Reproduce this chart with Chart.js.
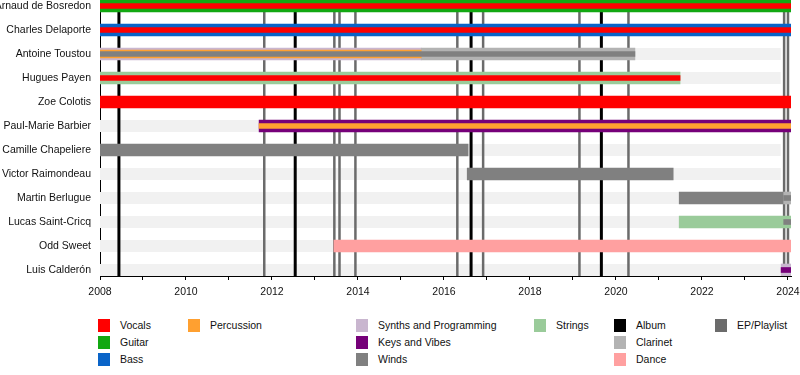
<!DOCTYPE html>
<html>
<head>
<meta charset="utf-8">
<script src="https://cdn.jsdelivr.net/npm/chart.js@4/dist/chart.umd.min.js"></script>
<style>
  body { margin: 0; background: #fff; font-family: "Liberation Sans", Arial, sans-serif; }
  #wrap { position: relative; width: 800px; height: 375px; overflow: hidden; }
  #chart { position: absolute; left: 0; top: 0; }
  .sw { position: absolute; width: 12px; height: 13px; }
  .lt { position: absolute; font-size: 10.5px; color: #111; line-height: 13px; white-space: nowrap; }
</style>
</head>
<body>
<div id="wrap">
  <canvas id="chart" width="800" height="300"></canvas>
  <div id="legend"></div>
</div>
<script>
// band members, top to bottom
const members = [
  'Arnaud de Bosredon', 'Charles Delaporte', 'Antoine Toustou', 'Hugues Payen',
  'Zoe Colotis', 'Paul-Marie Barbier', 'Camille Chapeliere', 'Victor Raimondeau',
  'Martin Berlugue', 'Lucas Saint-Cricq', 'Odd Sweet', 'Luis Calderón'
];

const roles = ['Vocals', 'Guitar', 'Bass', 'Percussion', 'Synths and Programming', 'Keys and Vibes',
  'Winds', 'Strings', 'Album', 'Clarinet', 'Dance', 'EP/Playlist'];
const roleColors = ['#ff0000', '#12a812', '#0a64c8', '#ffa030', '#c9b6cf', '#760079',
  '#808080', '#9acb9a', '#000000', '#b3b3b3', '#ffa0a0', '#6b6b6b'];

const timelineStart = 2008;
const timelineEnd = 2024.07;
const stripeEnd = 2023.83;

const yearTicks = [2008, 2009, 2010, 2011, 2012, 2013, 2014, 2015, 2016, 2017, 2018, 2019, 2020, 2021, 2022, 2023, 2024];
const yearLabels = ['2008', '', '2010', '', '2012', '', '2014', '', '2016', '', '2018', '', '2020', '', '2022', '', '2024'];

// [member, role, from, till]
const mainBars = [
  ['Arnaud de Bosredon', 'Guitar', 2008, timelineEnd],
  ['Charles Delaporte', 'Bass', 2008, timelineEnd],
  ['Antoine Toustou', 'Synths and Programming', 2008, 2015.47],
  ['Antoine Toustou', 'Clarinet', 2015.47, 2020.44],
  ['Hugues Payen', 'Strings', 2008, 2021.49],
  ['Zoe Colotis', 'Vocals', 2008, timelineEnd],
  ['Paul-Marie Barbier', 'Keys and Vibes', 2011.70, timelineEnd],
  ['Camille Chapeliere', 'Winds', 2008, 2016.56],
  ['Victor Raimondeau', 'Winds', 2016.54, 2021.33],
  ['Martin Berlugue', 'Winds', 2021.47, 2023.9],
  ['Martin Berlugue', 'Clarinet', 2023.9, timelineEnd],
  ['Lucas Saint-Cricq', 'Strings', 2021.47, timelineEnd],
  ['Odd Sweet', 'Dance', 2013.44, timelineEnd],
  ['Luis Calderón', 'Synths and Programming', 2023.84, timelineEnd]
];
const midBars = [
  ['Antoine Toustou', 'Percussion', 2008, 2015.47]
];
const innerBars = [
  ['Arnaud de Bosredon', 'Vocals', 2008, timelineEnd],
  ['Charles Delaporte', 'Vocals', 2008, timelineEnd],
  ['Antoine Toustou', 'Winds', 2008, 2020.44],
  ['Hugues Payen', 'Vocals', 2008, 2021.49],
  ['Paul-Marie Barbier', 'Percussion', 2011.70, timelineEnd],
  ['Martin Berlugue', 'Winds', 2023.9, timelineEnd],
  ['Lucas Saint-Cricq', 'Winds', 2023.9, timelineEnd],
  ['Luis Calderón', 'Keys and Vibes', 2023.84, timelineEnd]
];

// release dates
const albums = [2008.44, 2012.54, 2016.63, 2019.66];
const eps = [2011.82, 2013.45, 2013.57, 2013.94, 2016.31, 2016.91, 2019.15, 2020.29, 2023.91, 2024.0];

// legend columns (role names), laid out column by column
const legendColumns = [
  ['Vocals', 'Guitar', 'Bass'],
  ['Percussion'],
  ['Synths and Programming', 'Keys and Vibes', 'Winds'],
  ['Strings'],
  ['Album', 'Clarinet', 'Dance'],
  ['EP/Playlist']
];
const legendX = [98, 188, 356, 534, 614, 715];
const legendY = [319, 336, 353];

const font = { family: '"Liberation Sans", Arial, sans-serif', size: 10.5 };
const colorOf = name => roleColors[roles.indexOf(name)];

function layer(bars, thickness, order) {
  return {
    data: bars.map(b => ({ x: [b[2], b[3]], y: members.indexOf(b[0]) })),
    backgroundColor: bars.map(b => colorOf(b[1])),
    barThickness: thickness,
    grouped: false,
    borderWidth: 0,
    order: order
  };
}

// no label overflow padding, the plot runs to the canvas top
function noPad(s) {
  s.paddingTop = 0;
  s.paddingBottom = 0;
  s.paddingLeft = 0;
  s.paddingRight = 0;
}

// light row stripes and release lines, under the member bars
const backdrop = {
  id: 'backdrop',
  beforeDatasetsDraw(chart) {
    const { ctx, chartArea, scales: { x, y } } = chart;
    ctx.save();
    ctx.fillStyle = '#f1f1f1';
    members.forEach((m, i) => {
      const yc = y.getPixelForValue(i);
      ctx.fillRect(x.getPixelForValue(timelineStart), yc - 6, x.getPixelForValue(stripeEnd) - x.getPixelForValue(timelineStart), 12);
    });
    const vline = (yr, color, w) => {
      const px = x.getPixelForValue(yr);
      ctx.strokeStyle = color;
      ctx.lineWidth = w;
      ctx.beginPath();
      ctx.moveTo(px, chartArea.top);
      ctx.lineTo(px, chartArea.bottom);
      ctx.stroke();
    };
    eps.forEach(d => vline(d, colorOf('EP/Playlist'), 2.5));
    albums.forEach(d => vline(d, colorOf('Album'), 3));
    ctx.restore();
  }
};

new Chart(document.getElementById('chart'), {
  type: 'bar',
  data: {
    datasets: [layer(mainBars, 12, 3), layer(midBars, 8, 2), layer(innerBars, 5, 1)]
  },
  options: {
    indexAxis: 'y',
    responsive: false,
    animation: false,
    layout: { autoPadding: false, padding: { left: 0, right: 9, top: 0, bottom: 0 } },
    plugins: { legend: { display: false }, tooltip: { enabled: false } },
    scales: {
      x: {
        type: 'linear',
        offset: false,
        min: timelineStart,
        max: timelineEnd,
        afterBuildTicks: s => { s.ticks = yearTicks.map(v => ({ value: v })); },
        afterFit: s => { s.height = 24; noPad(s); },
        ticks: {
          autoSkip: false,
          maxRotation: 0,
          padding: 6,
          color: '#111',
          font: font,
          callback: v => yearLabels[yearTicks.indexOf(v)]
        },
        grid: { offset: false, drawOnChartArea: false, drawTicks: true, tickLength: 4, color: '#000' },
        border: { color: '#000', width: 1 }
      },
      y: {
        type: 'linear',
        offset: false,
        reverse: true,
        min: -0.25,
        max: 11.25,
        afterBuildTicks: s => { s.ticks = members.map((m, i) => ({ value: i })); },
        afterFit: s => { s.width = 100; noPad(s); },
        ticks: { autoSkip: false, padding: 9, color: '#111', font: font, callback: v => members[v] },
        grid: { offset: false, drawOnChartArea: false, drawTicks: false },
        border: { color: '#000', width: 1 }
      }
    }
  },
  plugins: [backdrop]
});

// legend
const legendBox = document.getElementById('legend');
legendColumns.forEach((col, ci) => {
  col.forEach((name, ri) => {
    const sw = document.createElement('div');
    sw.className = 'sw';
    sw.style.left = legendX[ci] + 'px';
    sw.style.top = legendY[ri] + 'px';
    sw.style.background = colorOf(name);
    legendBox.appendChild(sw);
    const t = document.createElement('div');
    t.className = 'lt';
    t.style.left = (legendX[ci] + 22) + 'px';
    t.style.top = legendY[ri] + 'px';
    t.textContent = name;
    legendBox.appendChild(t);
  });
});
</script>
</body>
</html>
